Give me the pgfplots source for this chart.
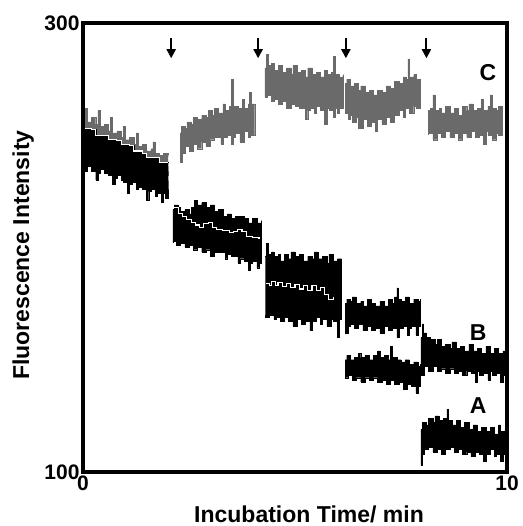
\documentclass[border=0pt]{standalone}
\usepackage{fontspec}
\setmainfont{Liberation Sans}
\usepackage{pgfplots}
\pgfplotsset{compat=1.18}
\usetikzlibrary{arrows.meta}
\definecolor{cgray}{HTML}{6A6A6A}

\begin{document}
\begin{tikzpicture}
\begin{axis}[
  width=424pt, height=449pt, scale only axis,
  xmin=0, xmax=10, ymin=100, ymax=300,
  xtick={0,10}, ytick={100,300},
  major tick length=0pt,
  axis line style={line width=3.5pt},
  axis on top,
  /pgf/number format/assume math mode=true,
  tick label style={font=\fontsize{21}{21}\selectfont\bfseries},
  xlabel={Incubation Time/ min},
  ylabel={Fluorescence Intensity},
  label style={font=\fontsize{23}{23}\selectfont\bfseries},
  xlabel style={at={(axis description cs:0.533,-0.0935)}, anchor=center},
  ylabel style={at={(axis description cs:-0.141,0.483)}, anchor=center},
  gr/.style={draw=cgray, fill=cgray, line width=0.4pt, const plot},
  bk/.style={draw=black, fill=black, line width=0.4pt, const plot},
  wl/.style={white, line width=1.1pt, const plot},
]
% --- trace C (grey)
\addplot[gr] coordinates {
  (0,259) (0.05,262) (0.1,256) (0.2,258) (0.3,255) (0.35,261) (0.4,254) (0.5,255)
  (0.6,252) (0.65,258) (0.7,251) (0.8,252) (0.9,249) (0.95,254) (1.0,248) (1.1,249)
  (1.2,246) (1.25,251) (1.3,245) (1.4,246) (1.5,243) (1.6,244) (1.65,247) (1.7,242)
  (1.8,241) (1.9,242) (2.0,240)
  (2.0,232) (1.5,236) (1.0,240) (0.5,244) (0,248)
};
\addplot[gr] coordinates {
  (2.29,251) (2.32,254) (2.4,253) (2.45,256) (2.55,255) (2.6,258) (2.7,257) (2.8,259)
  (2.9,258) (2.95,261) (3.05,259) (3.1,262) (3.2,260) (3.3,264) (3.35,261) (3.45,263)
  (3.5,275) (3.55,263) (3.65,262) (3.75,266) (3.8,262) (3.9,264) (3.93,269) (3.97,264)
  (4.05,263)
  (4.05,250) (3.95,249) (3.9,252) (3.8,247) (3.7,251) (3.6,249) (3.55,246) (3.5,250)
  (3.4,249) (3.3,246) (3.25,249) (3.1,248) (3.0,245) (2.9,247) (2.8,244) (2.7,246)
  (2.6,243) (2.5,245) (2.4,242) (2.35,238) (2.29,242)
};
\addplot[gr] coordinates {
  (4.29,280) (4.33,286) (4.37,281) (4.45,282) (4.5,279) (4.6,281) (4.7,278) (4.8,280)
  (4.9,277) (4.95,281) (5.05,278) (5.15,279) (5.25,276) (5.3,280) (5.4,277) (5.5,278)
  (5.6,276) (5.7,279) (5.75,277) (5.85,278) (5.9,285) (5.95,277) (6.05,276) (6.13,277)
  (6.13,262) (6.05,260) (6.0,262) (5.95,258) (5.9,261) (5.8,262) (5.75,255) (5.7,261)
  (5.6,263) (5.5,260) (5.45,262) (5.35,261) (5.3,257) (5.25,262) (5.1,263) (5.0,264)
  (4.9,262) (4.8,265) (4.7,264) (4.6,266) (4.5,265) (4.45,268) (4.35,267) (4.29,269)
};
\addplot[gr] coordinates {
  (6.18,273) (6.22,275) (6.3,272) (6.4,273) (6.5,270) (6.55,272) (6.65,269) (6.75,270)
  (6.85,268) (6.95,270) (7.05,269) (7.15,272) (7.25,271) (7.35,274) (7.45,273) (7.55,276)
  (7.62,275) (7.66,284) (7.7,276) (7.8,277) (7.85,275) (7.95,274)
  (7.95,262) (7.85,263) (7.8,260) (7.7,262) (7.6,258) (7.55,261) (7.45,259) (7.35,256)
  (7.25,258) (7.15,255) (7.05,257) (6.95,252) (6.9,256) (6.8,254) (6.7,257) (6.6,253)
  (6.5,258) (6.45,256) (6.35,259) (6.3,257) (6.25,260) (6.18,261)
};
\addplot[gr] coordinates {
  (8.14,261) (8.2,262) (8.25,268) (8.3,261) (8.4,262) (8.45,260) (8.55,263) (8.65,260)
  (8.75,262) (8.85,259) (8.95,263) (9.05,261) (9.1,264) (9.2,261) (9.3,262) (9.4,266)
  (9.45,261) (9.55,263) (9.6,268) (9.65,262) (9.75,261) (9.8,263) (9.88,261)
  (9.88,250) (9.8,251) (9.75,248) (9.65,250) (9.55,252) (9.5,246) (9.45,250) (9.35,249)
  (9.25,252) (9.15,249) (9.05,251) (8.95,248) (8.85,251) (8.75,249) (8.65,252) (8.55,249)
  (8.45,251) (8.35,248) (8.25,251) (8.14,250)
};
% --- traces A and B (black)
\addplot[bk] coordinates {
  (0,253) (0.2,252.5) (0.3,250) (0.5,250) (0.6,248) (0.8,247.5) (0.9,246) (1.1,245.5)
  (1.2,243) (1.4,242) (1.5,240) (1.7,240) (1.8,238) (2.0,237.5)
  (2.0,222) (1.95,224) (1.9,220) (1.85,224) (1.75,223) (1.7,226) (1.6,225) (1.55,221)
  (1.5,226) (1.4,227) (1.3,226) (1.25,229) (1.15,228) (1.1,224) (1.05,229) (0.95,230)
  (0.9,232) (0.8,231) (0.75,228) (0.7,232) (0.6,233) (0.5,235) (0.4,233) (0.35,230)
  (0.3,234) (0.2,236) (0.1,234) (0.05,237) (0,235)
};
\addplot[wl] coordinates {
  (0,253) (0.2,252.5) (0.3,250) (0.5,250) (0.6,248) (0.8,247.5) (0.9,246) (1.1,245.5)
  (1.2,243) (1.4,242) (1.5,240) (1.7,240) (1.8,238) (2.0,237.5)
};
\addplot[bk] coordinates {
  (2.12,217) (2.15,219) (2.25,218) (2.3,216) (2.4,217) (2.5,215) (2.55,218) (2.62,221)
  (2.7,219) (2.8,220) (2.9,218) (3.0,219) (3.1,216) (3.2,217) (3.3,214) (3.4,215)
  (3.5,213) (3.6,214) (3.7,214) (3.8,213) (3.9,211) (4.0,213) (4.1,211) (4.2,212)
  (4.2,193) (4.15,191) (4.1,194) (4.0,193) (3.95,190) (3.9,194) (3.8,195) (3.7,193)
  (3.65,196) (3.5,197) (3.4,195) (3.35,198) (3.2,198) (3.1,196) (3.0,199) (2.9,198)
  (2.8,200) (2.7,199) (2.6,201) (2.5,200) (2.4,202) (2.3,201) (2.2,203) (2.12,202)
};
\addplot[wl] coordinates {
  (2.14,218) (2.25,215) (2.35,214) (2.45,212.5) (2.55,211) (2.65,210) (2.75,209)
  (2.85,210.5) (2.95,211) (3.05,209) (3.15,208) (3.3,207.5) (3.45,206.5) (3.55,207)
  (3.65,208) (3.75,207) (3.85,205) (4.0,204.5) (4.15,204)
};
\addplot[bk] coordinates {
  (4.3,196) (4.32,202) (4.36,197) (4.45,198) (4.5,196) (4.6,197) (4.65,194) (4.75,197)
  (4.85,195) (4.9,198) (5.0,196) (5.1,197) (5.2,194) (5.3,196) (5.4,195) (5.45,198)
  (5.55,195) (5.65,196) (5.75,193) (5.8,197) (5.9,194) (6.0,195) (6.1,193)
  (6.1,168) (6.05,160) (6.0,167) (5.9,168) (5.85,165) (5.75,168) (5.65,166) (5.6,169)
  (5.5,167) (5.4,163) (5.35,167) (5.25,166) (5.15,168) (5.05,165) (4.95,167) (4.85,169)
  (4.75,167) (4.65,169) (4.55,168) (4.5,170) (4.4,169) (4.3,170)
};
\addplot[wl] coordinates {
  (4.32,184) (4.4,183) (4.45,185) (4.55,183) (4.6,184.5) (4.7,182.5) (4.8,184) (4.9,182)
  (5.0,183.5) (5.1,181.5) (5.2,183) (5.3,181) (5.4,183) (5.5,181) (5.6,182) (5.7,179)
  (5.8,177) (5.9,178)
};
% B, t = 6-8
\addplot[bk] coordinates {
  (6.18,175) (6.22,177) (6.3,176) (6.35,178) (6.45,175) (6.55,176) (6.6,174) (6.7,177)
  (6.8,175) (6.9,174) (7.0,176) (7.1,174) (7.2,177) (7.3,175) (7.35,178) (7.4,182)
  (7.43,177) (7.5,176) (7.6,178) (7.7,175) (7.8,177) (7.9,176) (7.95,177)
  (7.95,165) (7.9,161) (7.85,165) (7.75,164) (7.7,161) (7.65,165) (7.55,164) (7.45,160)
  (7.4,164) (7.3,163) (7.2,165) (7.1,162) (7.0,164) (6.9,163) (6.8,165) (6.7,163)
  (6.6,166) (6.5,164) (6.4,166) (6.3,165) (6.25,162) (6.18,166)
};
% A, t = 6-8
\addplot[bk] coordinates {
  (6.18,150) (6.22,152) (6.3,150) (6.4,151) (6.5,153) (6.55,151) (6.65,152) (6.75,150)
  (6.85,152) (6.95,154) (7.0,151) (7.1,152) (7.2,150) (7.25,156) (7.3,151) (7.4,150)
  (7.5,149) (7.6,150) (7.7,148) (7.8,149) (7.9,147) (7.95,148)
  (7.95,138) (7.9,135) (7.85,138) (7.75,139) (7.65,137) (7.55,140) (7.45,139) (7.35,141)
  (7.25,139) (7.15,141) (7.05,140) (6.95,142) (6.85,141) (6.75,142) (6.65,140) (6.55,142)
  (6.45,141) (6.35,143) (6.25,142) (6.18,143)
};
% B, t = 8-10
\addplot[bk] coordinates {
  (7.97,160) (8.0,166) (8.03,162) (8.1,160) (8.2,159) (8.3,157) (8.35,159) (8.45,156)
  (8.55,157) (8.65,155) (8.7,158) (8.8,155) (8.9,156) (9.0,154) (9.1,157) (9.2,154)
  (9.3,155) (9.4,153) (9.5,156) (9.6,153) (9.7,155) (9.8,153) (9.9,154) (9.95,152)
  (9.95,143) (9.9,140) (9.85,144) (9.75,143) (9.65,145) (9.6,141) (9.55,144) (9.45,143)
  (9.35,145) (9.3,140) (9.25,144) (9.15,145) (9.05,143) (8.95,145) (8.85,144) (8.75,146)
  (8.65,144) (8.55,146) (8.45,145) (8.35,147) (8.25,145) (8.15,147) (8.05,143) (7.97,146)
};
% A, t = 8-10
\addplot[bk] coordinates {
  (7.97,119) (8.0,122) (8.1,121) (8.15,124) (8.25,122) (8.3,125) (8.4,123) (8.5,124)
  (8.58,128) (8.62,123) (8.7,121) (8.8,123) (8.9,120) (9.0,122) (9.1,119) (9.2,121)
  (9.3,118) (9.4,120) (9.5,118) (9.6,120) (9.7,117) (9.8,121) (9.85,118) (9.95,119)
  (9.95,108) (9.9,105) (9.85,108) (9.75,107) (9.7,110) (9.6,108) (9.5,105) (9.45,108)
  (9.35,109) (9.25,107) (9.15,109) (9.05,108) (8.95,110) (8.85,109) (8.75,111) (8.65,110)
  (8.55,108) (8.45,110) (8.35,109) (8.25,111) (8.15,110) (8.05,108) (8.0,103) (7.97,108)
};
% additions (arrows)
\addplot[black, line width=2pt, -{Triangle[length=9pt,width=9pt]},
  quiver={u=0, v=-9}] coordinates {(2.08,293.3) (4.13,293.3) (6.2,293.3) (8.1,293.3)};
\node[font=\fontsize{23}{23}\selectfont\bfseries] at (axis cs:9.55,277.7) {C};
\node[font=\fontsize{23}{23}\selectfont\bfseries] at (axis cs:9.32,161.9) {B};
\node[font=\fontsize{23}{23}\selectfont\bfseries] at (axis cs:9.32,129.8) {A};
\end{axis}
\path ([xshift=-83pt,yshift=-54pt]current axis.south west)
  rectangle ([xshift=15pt,yshift=23pt]current axis.north east);
\end{tikzpicture}
\end{document}
